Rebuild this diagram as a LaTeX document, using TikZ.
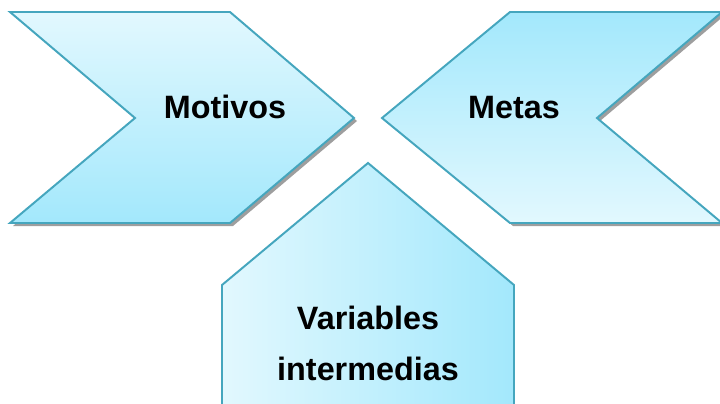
\documentclass[tikz,border=0pt]{standalone}
\usepackage{fontspec}
\setmainfont{Liberation Sans}
\usetikzlibrary{positioning}
\definecolor{edgeblue}{HTML}{45A6BE}
\definecolor{paleblue}{HTML}{E2F8FE}
\definecolor{deepblue}{HTML}{A3E8FC}
\tikzset{
  shapeline/.style={draw=edgeblue, line width=1.4pt, line join=miter},
  shadowfill/.style={fill=black!38},
  labeltext/.style={font=\fontsize{23}{36}\selectfont\bfseries, align=center, inner sep=0pt}
}

\begin{document}
\begin{tikzpicture}[x=0.025cm,y=-0.025cm]
\useasboundingbox (0,0) rectangle (720,403);
\clip (0,0) rectangle (720,403);

% Motivos chevron (points right)
\fill[shadowfill,shift={(3,3)}] (10,12) -- (230,12) -- (354,118) -- (230,223) -- (10,223) -- (135,118) -- cycle;
\shade[top color=paleblue,bottom color=deepblue] (10,12) -- (230,12) -- (354,118) -- (230,223) -- (10,223) -- (135,118) -- cycle;
\draw[shapeline] (10,12) -- (230,12) -- (354,118) -- (230,223) -- (10,223) -- (135,118) -- cycle;
\node[labeltext, anchor=base] (motivos) at (225,118) {Motivos};

% Metas chevron (points left)
\fill[shadowfill,shift={(3,3)}] (382,118) -- (510,12) -- (722,12) -- (597,118) -- (722,223) -- (510,223) -- cycle;
\shade[top color=deepblue,bottom color=paleblue] (382,118) -- (510,12) -- (722,12) -- (597,118) -- (722,223) -- (510,223) -- cycle;
\draw[shapeline] (382,118) -- (510,12) -- (722,12) -- (597,118) -- (722,223) -- (510,223) -- cycle;
\node[labeltext, anchor=base] (metas) at (514,118) {Metas};

% Variables intermedias pentagon (points up)
\shade[left color=paleblue,right color=deepblue] (368,163) -- (514,285) -- (514,410) -- (222,410) -- (222,285) -- cycle;
\draw[shapeline] (368,163) -- (514,285) -- (514,410) -- (222,410) -- (222,285) -- cycle;
\node[labeltext, anchor=base] (variables) at (368,380) {Variables\\intermedias};
\end{tikzpicture}
\end{document}
